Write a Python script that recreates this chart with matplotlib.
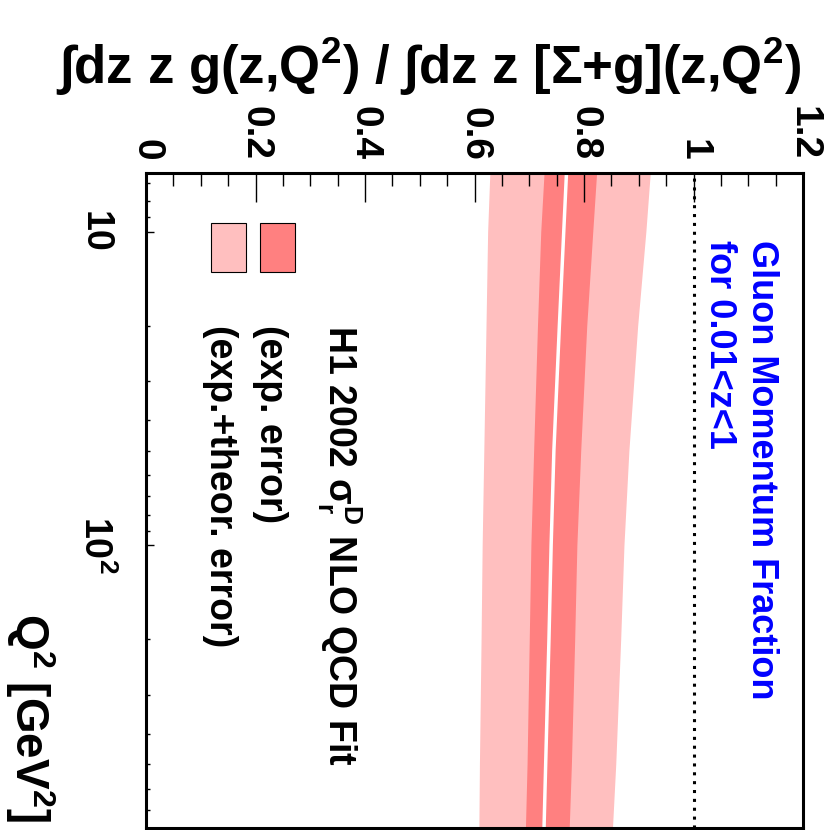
import matplotlib
matplotlib.use("Agg")
import matplotlib.pyplot as plt
import matplotlib.transforms as mtransforms
from matplotlib.patches import Rectangle
from matplotlib.ticker import FixedLocator, MultipleLocator, NullFormatter
import numpy as np

plt.rcParams["font.family"] = ["Liberation Sans", "DejaVu Sans"]
plt.rcParams["font.weight"] = "bold"
plt.rcParams["mathtext.fontset"] = "custom"
plt.rcParams["mathtext.rm"] = "Liberation Sans:bold"
plt.rcParams["mathtext.it"] = "Liberation Sans:bold"
plt.rcParams["mathtext.bf"] = "Liberation Sans:bold"
plt.rcParams["mathtext.sf"] = "Liberation Sans:bold"

# gluon momentum fraction vs Q^2 (GeV^2)
q2 = [6.5, 10, 20, 50, 100, 200, 500, 800]
frac_central = [0.768, 0.763, 0.755, 0.745, 0.740, 0.736, 0.730, 0.727]
exp_lo = [0.727, 0.721, 0.715, 0.708, 0.703, 0.700, 0.696, 0.693]
exp_hi = [0.823, 0.816, 0.805, 0.794, 0.787, 0.783, 0.777, 0.773]
tot_lo = [0.628, 0.624, 0.621, 0.617, 0.614, 0.612, 0.609, 0.608]
tot_hi = [0.921, 0.913, 0.898, 0.882, 0.873, 0.867, 0.858, 0.852]

frac_ticks = [0, 0.2, 0.4, 0.6, 0.8, 1.0, 1.2]
frac_labels = ["0", "0.2", "0.4", "0.6", "0.8", "1", "1.2"]
q2_ticks = [10, 100]
q2_labels = ["10", "10$^{2}$"]

light = "#ffbfbf"
dark = "#ff8080"

fig = plt.figure(figsize=(8.26, 8.30), dpi=100)
W, H = 826, 830
x0, x1, y0, y1 = 146, 803, 173, 828
ax = fig.add_axes([x0 / W, 1 - y1 / H, (x1 - x0) / W, (y1 - y0) / H])

ax.fill_betweenx(q2, tot_lo, tot_hi, color=light, lw=0)
ax.fill_betweenx(q2, exp_lo, exp_hi, color=dark, lw=0)
ax.plot(frac_central, q2, color="white", lw=2.5)
ax.axvline(1.0, color="black", lw=2.2, ls=(0, (1, 1.9)))

ax.set_yscale("log")
ax.set_ylim(800, 6.5)
ax.set_xlim(0, 1.2)

# fraction axis along the top
ax.xaxis.tick_top()
ax.set_xticks(frac_ticks)
ax.set_xticklabels(frac_labels, rotation=-90, fontsize=28, fontweight="bold")
ax.xaxis.set_minor_locator(MultipleLocator(0.05))
ax.tick_params(axis="x", which="major", direction="in", length=21, width=1.0, pad=9)
ax.tick_params(axis="x", which="minor", direction="in", length=9.5, width=1.0)

# Q^2 axis on the left, labels drawn by hand
ax.yaxis.set_major_locator(FixedLocator(q2_ticks))
minors = [m * d for d in (1, 10, 100) for m in range(2, 10)]
ax.yaxis.set_minor_locator(FixedLocator(minors))
ax.yaxis.set_major_formatter(NullFormatter())
ax.yaxis.set_minor_formatter(NullFormatter())
ax.tick_params(axis="y", which="major", direction="in", length=6, width=1.0)
ax.tick_params(axis="y", which="minor", direction="in", length=3, width=1.0)

trans = mtransforms.blended_transform_factory(ax.transAxes, ax.transData)
for q, lab in zip(q2_ticks, q2_labels):
    ax.text(-0.094, q, lab, transform=trans, rotation=-90, rotation_mode="anchor",
            ha="center", va="baseline", fontsize=27, fontweight="bold", clip_on=False)

for s in ax.spines.values():
    s.set_linewidth(2.2)

# legend
ax.add_patch(Rectangle((0.0989, 0.8489), 0.0533, 0.0748, transform=ax.transAxes,
                       facecolor=light, edgecolor="black", lw=0.8))
ax.add_patch(Rectangle((0.1735, 0.8489), 0.0533, 0.0748, transform=ax.transAxes,
                       facecolor=dark, edgecolor="black", lw=0.8))
leg_kw = dict(transform=ax.transAxes, rotation=-90, rotation_mode="anchor",
              ha="left", va="baseline", fontsize=27, fontweight="bold")
ax.text(0.2755, 0.768, r"H1 2002 $\sigma_{r}^{D}$ NLO QCD Fit", **leg_kw)
ax.text(0.1735, 0.768, "(exp. error)", **leg_kw)
ax.text(0.0974, 0.768, "(exp.+theor. error)", **leg_kw)

blue_kw = dict(leg_kw, fontsize=26, color="blue")
ax.text(0.9224, 0.8977, "Gluon Momentum Fraction", **blue_kw)
ax.text(0.8584, 0.8977, "for 0.01<z<1", **blue_kw)

fig.text(429 / W, 1 - 84 / H, "∫dz z g(z,Q$^{2}$) / ∫dz z [Σ+g](z,Q$^{2}$)",
         ha="center", va="baseline", fontsize=38, fontweight="bold")
fig.text(15 / W, 1 - 822 / H, "Q$^{2}$ [GeV$^{2}$]", rotation=-90, rotation_mode="anchor",
         ha="right", va="baseline", fontsize=33, fontweight="bold")

fig.savefig("out.png", dpi=100)
